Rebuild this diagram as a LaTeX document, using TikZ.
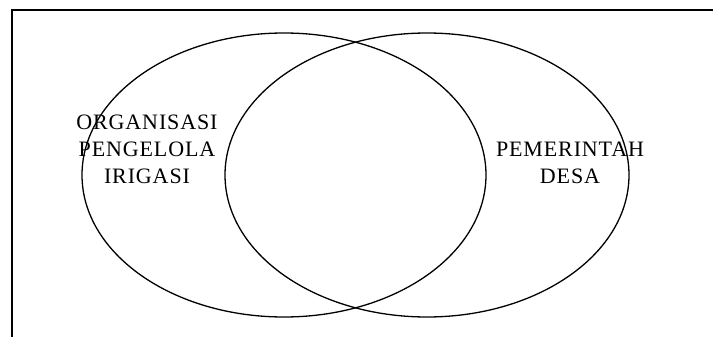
\documentclass[tikz,border=0pt]{standalone}
\usepackage{fontspec}
\setmainfont{Liberation Serif}
\usetikzlibrary{shapes.geometric}

\begin{document}
\begin{tikzpicture}[
    x=1pt, y=-1pt,
    setellipse/.style={
        draw, ellipse, line width=1.3pt, inner sep=0pt,
        minimum width=404pt, minimum height=284pt
    },
    setlabel/.style={
        align=center, inner sep=0pt,
        font=\fontsize{22}{27}\selectfont\addfontfeature{LetterSpace=4}
    }
]

\useasboundingbox (0,0) rectangle (713,337);

% -------------------------
% Frame (top and left edge)
% -------------------------
\coordinate (frameleft) at (12,337);
\coordinate (framecorner) at (12,10);
\coordinate (frameright) at (713,10);
\draw[line width=1.4pt] (frameleft) -- (framecorner) -- (frameright);

% -------------------------
% Sets
% -------------------------

% 1. Organisasi pengelola irigasi (Left)
\node[setellipse] (organisasi) at (284,175) {};

% 2. Pemerintah desa (Right)
\node[setellipse] (desa) at (427,175) {};

% -------------------------
% Labels
% -------------------------
\node[setlabel] (organisasilabel) at (147,149) {ORGANISASI\\PENGELOLA\\IRIGASI};
\node[setlabel] (desalabel) at (570,163) {PEMERINTAH\\DESA};

\end{tikzpicture}
\end{document}
